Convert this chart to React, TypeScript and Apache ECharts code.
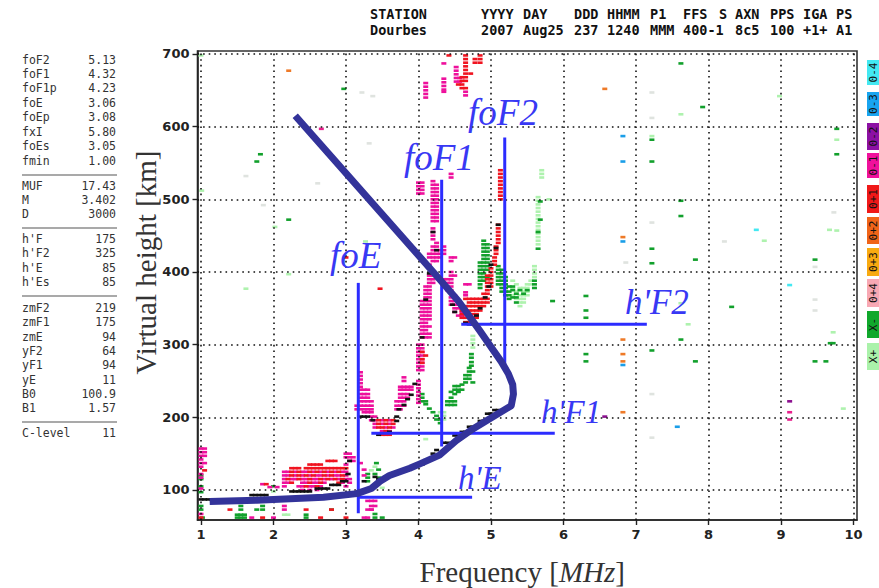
import React, { useEffect, useRef } from "react";
import * as echarts from "echarts";

// Each row: [virtual height km, ...frequencies MHz]
const magentaRows: number[][] = [
  [157,1.0,1.05],[152,1.0,1.05],[147,1.0,1.05],[142,1.0],[137,1.0,1.05],[132,1.0],[122,1.0],[117,1.0],[102,1.0],[67,1.0],
  [150,3.0,3.05],[145,3.0,3.05,3.1],[140,3.05,3.1],[135,3.0],[137,3.2],
  [125,2.15,2.2,2.3,2.4,2.45,2.55,2.65,2.75,2.85,2.95,3.0],
  [120,2.15,2.2,2.3,2.4,2.5,2.6,2.65,2.75,2.85,2.9,3.0],
  [115,2.15,2.25,2.3,2.4,2.45,2.55,2.6,2.7,2.8,2.9,3.0,3.05],
  [110,2.15,2.2,2.4,2.45,2.55,2.6,2.7,2.95,3.05],
  [105,2.15,2.35,2.4,2.5,2.55,2.65,3.0],
  [100,2.4,2.5,2.6],
  [108,1.85],[104,1.95],[104,2.05],
  [85,3.3,3.35,3.4],[78,2.15,3.35,3.4],[73,2.15,3.3,3.35],[62,1.7,2.0,3.25,3.3],[73,3.35],[120,3.25],[128,3.25],
  [262,3.2],[257,3.2],[252,3.2],[247,3.2],[242,3.2],
  [238,3.2,3.25,3.3],[232,3.2,3.25,3.3],[227,3.2,3.25,3.3],[222,3.2,3.25,3.3,3.35],
  [216,3.15,3.2,3.25,3.3,3.35],[211,3.15,3.2,3.25,3.3,3.35],[207,3.25,3.3,3.35],[201,3.35,3.4],
  [196,3.35,3.4,3.5,3.6],[191,3.4,3.5,3.6],[186,3.4,3.55,3.65],[181,3.5,3.6],
  [255,3.8],[250,3.8],[242,3.75,3.8,3.85,3.9],[238,3.75,3.8,3.85,3.9],[232,3.75,3.8,3.85],
  [227,3.75,3.8,3.85],[222,3.7,3.75,3.8],[216,3.7,3.75,3.8],[211,3.7,3.75],
  [250,4.0],[245,4.0],[240,4.0],[235,4.0],[230,4.0],[225,4.0],[220,4.0],[300,4.0,4.05],[295,4.0,4.05],[290,4.0,4.05],[285,4.0,4.05],
  [280,4.0,4.05],[275,4.0,4.05],[270,4.0,4.05],[265,4.0,4.05],
  [310,4.05,4.1,4.15],[315,4.05,4.1,4.15],[320,4.05,4.1],[325,4.05,4.1,4.15],[330,4.05,4.1],[335,4.05,4.1,4.15],[340,4.05,4.1,4.15],
  [345,4.05,4.1,4.15],[350,4.05,4.1,4.15],[355,4.05,4.1,4.15],[360,4.05,4.1,4.15],[365,4.1,4.15],[370,4.1,4.15],[375,4.1,4.15],[380,4.1,4.15],
  [385,4.15,4.2],[390,4.15,4.2],[395,4.15,4.2],[405,4.15],[410,4.15],[415,4.2,4.25],[420,4.15,4.2,4.25,4.3],[425,4.15,4.2,4.25,4.3,4.35],
  [430,4.2,4.25,4.3,4.35],[435,4.2,4.25,4.35],[440,4.25],[445,4.2],[450,4.2],[455,4.2],[460,4.2],
  [470,4.2,4.25],[475,4.2,4.25],[480,4.2,4.25],[485,4.2,4.25],[490,4.2,4.25],[495,4.2,4.25],[500,4.2,4.25],[505,4.2,4.25],
  [510,4.2,4.25],[515,4.2,4.25],[520,4.2,4.25],[525,4.2],[523,4.0,4.05],[518,4.0,4.05],[513,4.0,4.05],[508,4.0,4.05],
  [383,4.65,4.7],[372,4.65],[368,4.5,4.65],[365,4.45,4.5],[360,4.45,4.5,4.55],[355,4.45,4.5,4.55],[350,4.5,4.55,4.6],[345,4.5,4.6],[340,4.55,4.6],
  [395,4.45,4.5],[390,4.35,4.4,4.45],[385,4.4,4.45],[380,4.4,4.45],[375,4.4,4.45],[400,4.45],[415,4.45],[420,4.45,4.5],
  [660,4.1],[655,4.1],[650,4.1],[645,4.1],[640,4.1],[687,4.35],[666,4.35],[661,4.35],[656,4.35],[651,4.35],[648,4.35],
  [682,4.52],[677,4.52],[672,4.52],[667,4.52,4.57],[662,4.52,4.57],[648,4.65],[643,4.65],[535,4.45],[530,4.45],
];

const redRows: number[][] = [
  [127,1.05],[62,1.0],
  [140,2.75,2.8,2.85],[135,2.5,2.55,2.6,2.65],
  [130,2.25,2.3,2.35,2.45,2.5,2.55,2.6,2.65,2.7,2.75,2.8,2.85,2.9,2.95,3.0],
  [125,2.25,2.35,2.5,2.6,2.7,2.8,2.9],
  [120,2.25,2.35,2.45,2.55,2.7,2.8,2.95],
  [115,2.2,2.35,2.5,2.65,2.75,2.85,2.95],
  [110,2.25,2.5,2.65,2.9],[105,2.45,2.6],[108,1.9],
  [73,1.4,2.45,2.8],[62,1.85,2.65,3.0],
  [191,3.45,3.55,3.65],[186,3.45,3.5,3.6],[181,3.55],[176,3.5,3.55,3.6],[196,3.45,3.55,3.65],
  [290,4.05],[285,4.1],[280,4.05],[275,4.05],
  [363,4.65,4.7,4.75,4.8,4.85,4.9,4.95],[358,4.7,4.75,4.8,4.85,4.9,4.95],[353,4.6,4.65,4.7,4.75,4.8,4.85,4.9],
  [347,4.6,4.65,4.7,4.75,4.8,4.85],[342,4.6,4.65,4.7,4.75,4.8],[337,4.6,4.65,4.7,4.75,4.8],[331,4.65,4.7,4.75],
  [370,4.9,4.95],[375,4.95],[380,4.95,5.0],[385,4.95,5.0],[390,4.95,5.0],[395,4.95,5.0],[400,5.0],[405,5.0],
  [410,5.05],[415,5.05],[420,5.05],[425,5.07],[430,5.07],[435,5.07],[440,5.1],[445,5.1],[450,5.1],[455,5.1],[460,5.1],[465,5.1],
  [500,5.13],[505,5.13],[510,5.13],[515,5.13],[520,5.13],[525,5.13],[530,5.13],[535,5.13],[540,5.13],
  [698,4.42,4.65,4.85],[693,4.65,4.78,4.85],[688,4.65,4.78,4.85],[683,4.65],[678,4.65],[673,4.65,4.72],[668,4.6,4.65],[663,4.6,4.65],[658,4.55,4.6],[653,4.6,4.65],
  [377,3.47],[420,3.0],
];

const greenRows: number[][] = [
  [120,1.0],[115,1.0],[105,1.0],[97,1.0],[78,1.0],[73,1.0],[62,1.02],
  [105,2.0],[78,1.55],[73,1.55,1.77,1.85],[62,1.5,1.55,1.6,2.45,3.4,3.5],[66,1.5,1.55,1.6,2.45],[78,1.85],
  [137,3.42],[128,3.45],[122,3.3,3.4],[117,3.3,3.45],[112,3.3],[73,2.8],[67,3.4],
  [232,4.05],[227,4.05],[222,4.05,4.1],[218,4.1],[212,4.15],[207,4.2],[202,4.25],[197,4.25,4.3],[192,4.3],
  [227,4.45],[222,4.4,4.45,4.5],[217,4.4,4.45,4.5],[232,4.5],[243,4.5,4.55],[238,4.5,4.55,4.6],[235,4.45,4.55],
  [268,4.7],[263,4.7,4.75],[258,4.65,4.7],[253,4.65,4.7],[248,4.65,4.75],[245,4.6],[287,4.73],[282,4.73],[276,4.73],[271,4.73],
  [443,4.9],[438,4.9,4.95],[433,4.9,4.95],[428,4.9,4.95],[423,4.9,4.95],[418,4.9,4.95],[413,4.85,4.9,4.95],[408,4.85,4.9,4.95],
  [403,4.85,4.9,4.95],[398,4.85,4.9],[393,4.85,4.9,4.95],[388,4.85,4.9],[383,4.85],[378,4.85],
  [408,5.1],[403,5.1,5.15],[398,5.1,5.15],[393,5.1,5.15,5.2],[388,5.1,5.15,5.2],[383,5.1,5.15,5.2],[378,5.15,5.2],[373,5.15,5.2,5.25],[368,5.2,5.25],
  [363,5.25],[380,5.25,5.3],[375,5.3,5.4,5.5],[370,5.35,5.45],[388,5.6],[383,5.6],[378,5.6],[365,5.3,5.35],[358,5.35],
  [432,5.65],[455,5.65],[497,5.68],[472,5.68],[360,5.85],
  [687,7.62],[627,7.92],[552,1.77],[562,1.82],[472,2.21],[652,2.97],[582,7.22],[552,7.22],[597,9.77],[562,9.77],[498,7.62],[432,7.22],[417,9.47],
  [477,7.62],[412,7.22],[417,7.82],[367,6.31],[347,6.31],[337,6.31],[352,8.32],[307,7.62],[302,9.68,9.72],[292,7.22],[287,6.31],[277,6.31,7.82,9.47,9.62],
];

const paleGreenRows: number[][] = [
  [312,4.75],[307,4.75],[302,4.75],[296,4.75],[197,4.35],[207,4.3,4.35],[202,4.35],
  [98,2.0],[127,3.35],[108,3.45],[132,3.4],[103,3.5],
  [540,5.7],[535,5.7],[530,5.7],[503,5.65],[498,5.65],[493,5.65],[488,5.65],[483,5.65],[478,5.65],[473,5.65],[468,5.65],[463,5.65],
  [458,5.65],[453,5.65],[448,5.65],[443,5.65],[438,5.65],[500,5.8],
  [408,5.6],[403,5.6],[398,5.6],[393,5.6],[388,5.3,5.55],[383,5.35,5.5,5.55],[378,5.3,5.4,5.45,5.5],[373,5.35,5.45,5.5],[368,5.3,5.4,5.45,5.5],[363,5.35,5.4,5.45],[358,5.4,5.45],[353,5.4],
  [617,7.62],[587,7.22],[582,9.77],[642,8.98],[443,8.77],[458,9.67],[457,9.77],[357,7.62],[328,7.72],[317,9.72],[212,9.86],
  [512,1.01],[698,1.0],[462,2.02],[442,3.27],[397,2.21],[377,1.62],[170,4.1],[66,2.15],[66,2.2],
];

const greyRows: number[][] = [
  [647,3.22,7.22],[642,3.37],[577,3.32],[532,1.62],[522,2.61],[492,1.86],[612,7.22],[468,7.22],[413,6.86],
  [482,9.73],[442,8.22],[407,9.47],[362,9.47],[347,9.47],[232,7.22],[172,7.22],
];

const blackRows: number[][] = [
  [87,1.0,1.05,1.1,1.15],[93,1.7,1.75,1.8,1.85,1.9],[98,2.25,2.3,2.35,2.4,2.45,2.5],[102,2.6,2.65,2.7,2.75],[107,2.8,2.85,2.9],[112,2.95,3.0],
  [140,3.05],[122,3.03],[112,3.25],[118,3.4],[115,3.45],
  [201,3.2,3.25,3.3],[196,3.37],[176,3.45],[180,3.6],[195,3.7],
  [246,3.95],[231,3.9],[225,3.85],[217,3.8],[211,3.73],[201,3.7],
  [135,4.0,4.05],[141,4.1,4.15],[150,4.2],[155,4.25],[165,4.35,4.4],[175,4.5,4.55],[180,4.6,4.65],[187,4.7,4.75],[195,4.85,4.9],[205,4.95,5.0],[210,5.05,5.1],
  [430,4.25],[398,4.15],[362,4.1],[310,4.05],[455,4.2],[330,4.65],[345,4.5],[355,4.47],
  [465,5.1],[433,5.07],[410,5.0],[380,4.97],[365,4.92],[350,4.85],[340,4.8],[328,4.7,4.75],
];

const orangeRows: number[][] = [[677,2.21],[652,6.57],[448,6.82],[307,6.82],[287,6.82],[277,6.82],[207,6.82]];
const blueRows: number[][] = [[587,6.82],[552,6.82],[442,6.82],[272,6.82],[187,7.57]];
const cyanRows: number[][] = [[458,8.66],[382,9.12]];
const purpleRows: number[][] = [[222,9.12],[201,6.57]];
const hotRows: number[][] = [[207,9.12],[197,9.12],[597,2.66]];

const curve: number[][] = [
  [2.3,615],[4.3,389],[4.55,360],[4.84,320],[5.02,294],[5.14,277],[5.24,260],[5.3,245],[5.31,232],[5.28,216],
  [4.75,184],[4.52,168],[4.29,148],[4.02,136],[3.88,130],[3.6,120],[3.47,112],[3.35,102],[3.15,95],[2.69,90],[1.77,86],[1.12,84],
];
const guideLines: number[][][] = [
  [[3.17,385],[3.17,68]],
  [[4.32,527],[4.32,160]],
  [[5.19,585],[5.19,270]],
  [[4.59,328],[7.15,328]],
  [[3.35,178],[5.88,178]],
  [[3.17,90],[4.74,90]],
];

const xTicks = [1,2,3,4,5,6,7,8,9,10];
const yTicks = [100,200,300,400,500,600,700];

const scaledNames = ["foF2","foF1","foF1p","foE","foEp","fxI","foEs","fmin"];
const scaledValues = ["5.13","4.32","4.23","3.06","3.08","5.80","3.05","1.00"];
const mufNames = ["MUF","M","D"];
const mufValues = ["17.43","3.402","3000"];
const heightNames = ["h'F","h'F2","h'E","h'Es"];
const heightValues = ["175","325","85","85"];
const modelNames = ["zmF2","zmF1","zmE","yF2","yF1","yE","B0","B1"];
const modelValues = ["219","175","94","64","94","11","100.9","1.57"];

const headerTop = ["STATION","YYYY","DAY","DDD","HHMM","P1","FFS","S","AXN","PPS","IGA","PS"];
const headerBottom = ["Dourbes","2007","Aug25","237","1240","MMM","400-1","","8c5","100","+1+","A1"];

const legendLabels = ["0-4","0-3","0-2","0-1","0+1","0+2","0+3","0+4","X-","X+"];
const legendColors = ["#43e8f2","#18a4f0","#8c10a4","#f0109c","#f01818","#f06418","#f8aa10","#f8a8b4","#10a82c","#aaf2aa"];

const toPoints = (rows: number[][]) => rows.flatMap(([h, ...fs]) => fs.map((f) => [f, h]));

const MONO = "'DejaVu Sans Mono', monospace";

function buildGraphic() {
  const els: any[] = [];
  const panelText = (s: string, x: number, y: number, align: string) =>
    els.push({ type: "text", x, y, style: { text: s, fill: "#333", font: `11.5px ${MONO}`, textAlign: align, textVerticalAlign: "middle" } });
  const block = (names: string[], values: string[], ys: number[]) =>
    names.forEach((n, i) => { panelText(n, 22, ys[i], "left"); panelText(values[i], 116, ys[i], "right"); });
  block(scaledNames, scaledValues, [60,74,88,103,117,132,146,161]);
  block(mufNames, mufValues, [186,200,214]);
  block(heightNames, heightValues, [239,253,268,282]);
  block(modelNames, modelValues, [308,322,337,351,365,380,394,408]);
  block(["C-level"], ["11"], [433]);
  [175,228,296,422].forEach((y) =>
    els.push({ type: "line", shape: { x1: 22, y1: y, x2: 117, y2: y }, style: { stroke: "#555", lineWidth: 1.2 } }));

  const cols = [370,481,523,574,607,650,683,719,735,770,803,836];
  cols.forEach((x, i) => {
    [headerTop[i], headerBottom[i]].forEach((s, r) => {
      if (s) els.push({ type: "text", x, y: r ? 30 : 14, style: { text: s, fill: "#111", font: `bold 13.5px ${MONO}`, textAlign: "left", textVerticalAlign: "middle" } });
    });
  });

  const legendY = [[60,85],[92,116],[123,150],[153,178],[185,213],[217,244],[248,276],[279,307],[311,338],[343,370]];
  legendLabels.forEach((s, i) => {
    const [y0, y1] = legendY[i];
    els.push({ type: "rect", shape: { x: 867, y: y0, width: 12, height: y1 - y0 }, style: { fill: legendColors[i] } });
    els.push({ type: "text", x: 873, y: (y0 + y1) / 2, rotation: Math.PI / 2, style: { text: s, fill: "#111", font: `11px ${MONO}`, textAlign: "center", textVerticalAlign: "middle" } });
  });

  const labels: [string, number, number, number][] = [
    ["foF2",468,131,37],["foF1",404,176,37],["foE",330,274,37],["h'F2",625,320,35],["h'F1",541,428,33],["h'E",458,494,33],
  ];
  labels.forEach(([s, x, y, size]) =>
    els.push({ type: "text", x, y, z: 100, style: { text: s, fill: "#3838f4", font: `italic ${size}px 'Liberation Serif', serif`, textAlign: "left", textVerticalAlign: "bottom" } }));
  return els;
}

const dots = (name: string, rows: number[][], color: string, size: number[] = [5, 2.6]) => ({
  name, type: "scatter", data: toPoints(rows), symbol: "rect", symbolSize: size, silent: true,
  itemStyle: { color, opacity: 1 }, z: 3,
});

export default function App() {
  const ref = useRef<HTMLDivElement>(null);
  useEffect(() => {
    const chart = echarts.init(ref.current!, null, { renderer: "svg" });
    const dotted = { color: "#111", type: [1.6, 4] as any, width: 1.6 };
    chart.setOption({
      animation: false,
      backgroundColor: "#fff",
      textStyle: { fontFamily: "'DejaVu Sans', sans-serif" },
      grid: { left: 197.5, right: 22, top: 51, bottom: 68, show: true, borderColor: "#333", borderWidth: 1.6, backgroundColor: "transparent", outerBoundsMode: "none" },
      xAxis: {
        type: "value", min: 0.952, max: 10.049,
        name: "{a|Frequency [}{b|MHz}{a|]}", nameLocation: "middle", nameGap: 37,
        nameTextStyle: { padding: [0, 10, 0, 0], rich: {
          a: { fontFamily: "'Liberation Serif', serif", fontSize: 29, color: "#333" },
          b: { fontFamily: "'Liberation Serif', serif", fontSize: 29, color: "#333", fontStyle: "italic" },
        } },
        axisLine: { show: true, onZero: false, lineStyle: { color: "#222", width: 1.6 } },
        axisTick: { show: true, length: 5, customValues: xTicks, lineStyle: { color: "#222", width: 1.4 } },
        axisLabel: { customValues: xTicks, color: "#222", fontSize: 13, fontWeight: "bold", margin: 8, fontFamily: "'DejaVu Sans', sans-serif" },
        splitLine: { show: false },
      },
      yAxis: {
        type: "value", min: 58.7, max: 704.1,
        name: "Virtual height [km]", nameLocation: "middle", nameGap: 37, nameMoveOverlap: false,
        nameTextStyle: { fontFamily: "'Liberation Serif', serif", fontSize: 29, color: "#333", padding: [0, 0, 0, 46] },
        axisLine: { show: true, onZero: false, lineStyle: { color: "#222", width: 1.6 } },
        axisTick: { show: true, length: 5, customValues: yTicks, lineStyle: { color: "#222", width: 1.4 } },
        axisLabel: { customValues: yTicks, color: "#222", fontSize: 13, fontWeight: "bold", margin: 8, fontFamily: "'DejaVu Sans', sans-serif" },
        splitLine: { show: false },
      },
      series: [
        {
          name: "grid", type: "line", data: [], silent: true, z: 1,
          markLine: {
            silent: true, symbol: "none", animation: false, label: { show: false }, lineStyle: dotted,
            data: [...xTicks.map((v) => ({ xAxis: v })), ...yTicks.map((v) => ({ yAxis: v }))],
          },
        },
        dots("grey", greyRows, "#dfe3df"),
        dots("X+", paleGreenRows, "#aef2ae"),
        dots("X-", greenRows, "#12a02c"),
        dots("O-1", magentaRows, "#ee109c"),
        dots("O+1", redRows, "#f01420"),
        dots("orange", orangeRows, "#ee7a28"),
        dots("blue", blueRows, "#1a9ee8"),
        dots("cyan", cyanRows, "#43e8f2"),
        dots("purple", purpleRows, "#8c1090"),
        dots("hot", hotRows, "#e8208c"),
        dots("black", blackRows, "#111"),
        ...guideLines.map((data, i) => ({
          name: "guide" + i, type: "line", data, showSymbol: false, silent: true, z: 5,
          lineStyle: { color: "#2c2cff", width: 3, cap: "butt" },
        })),
        {
          name: "profile", type: "line", data: curve, showSymbol: false, silent: true, z: 6,
          lineStyle: { color: "#33339a", width: 7, join: "round", cap: "butt" },
        },
      ],
      graphic: buildGraphic(),
    });
    return () => chart.dispose();
  }, []);
  return <div ref={ref} style={{ position: "absolute", left: 0, top: 0, width: 879, height: 588 }} />;
}
